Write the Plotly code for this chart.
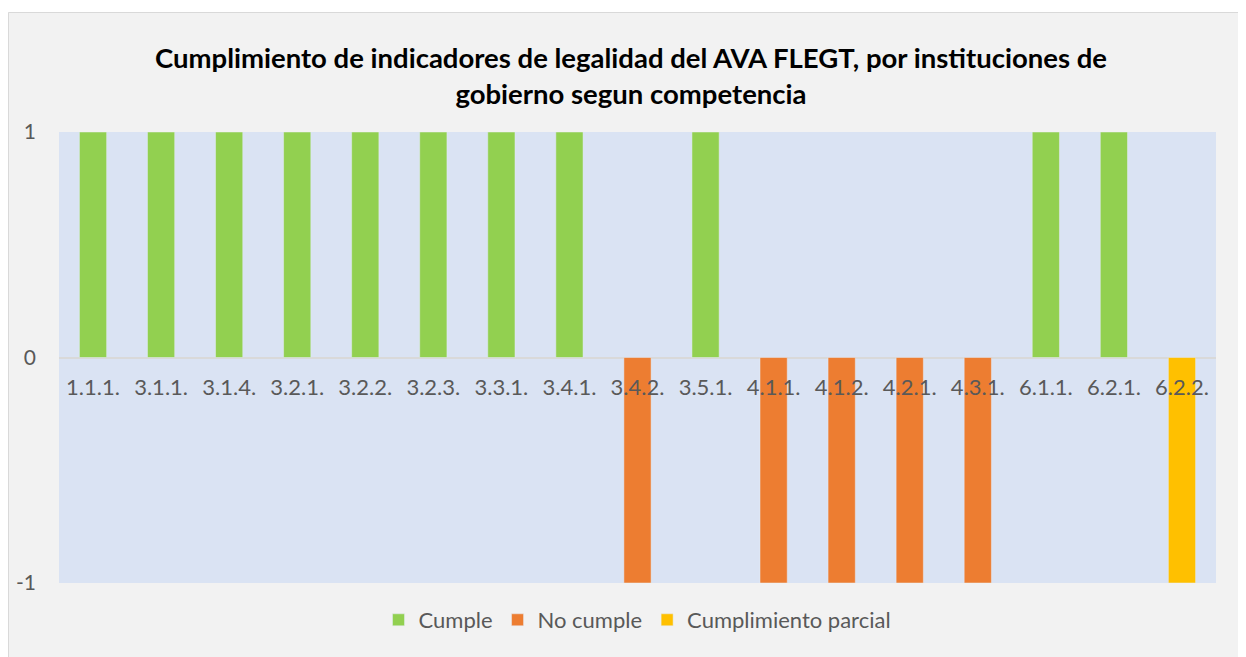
import plotly.graph_objects as go

categories = ['1.1.1.', '3.1.1.', '3.1.4.', '3.2.1.', '3.2.2.', '3.2.3.', '3.3.1.', '3.4.1.',
              '3.4.2.', '3.5.1.', '4.1.1.', '4.1.2.', '4.2.1.', '4.3.1.', '6.1.1.', '6.2.1.', '6.2.2.']
cumple = [1, 1, 1, 1, 1, 1, 1, 1, None, 1, None, None, None, None, 1, 1, None]
no_cumple = [None, None, None, None, None, None, None, None, -1, None, -1, -1, -1, -1, None, None, None]
parcial = [None, None, None, None, None, None, None, None, None, None, None, None, None, None, None, None, -1]
y_ticks = [-1, 0, 1]

W, H = 1246, 657
L, R, T, B = 51, 38, 124, 82
PW, PH = W - L - R, H - T - B

def px_x(x):
    return (x - L) / PW

def px_y(y):
    return (H - B - y) / PH

FONT = "Lato"
GREY = "#595959"

fig = go.Figure()
fig.add_trace(go.Bar(x=categories, y=cumple, name="Cumple", marker_color="#92d050", width=0.4))
fig.add_trace(go.Bar(x=categories, y=no_cumple, name="No cumple", marker_color="#ed7d31", width=0.4))
fig.add_trace(go.Bar(x=categories, y=parcial, name="Cumplimiento parcial", marker_color="#ffc000", width=0.4))

shapes = [
    dict(type="rect", xref="paper", yref="paper", x0=px_x(0), x1=px_x(W), y0=px_y(4), y1=px_y(0),
         fillcolor="white", line_width=0, layer="below"),
    dict(type="line", xref="paper", yref="paper", x0=px_x(0.5), x1=px_x(0.5), y0=px_y(H), y1=px_y(4.5),
         line=dict(color="#d9d9d9", width=1), layer="below"),
    dict(type="line", xref="paper", yref="paper", x0=px_x(0.5), x1=px_x(W), y0=px_y(4.5), y1=px_y(4.5),
         line=dict(color="#d9d9d9", width=1), layer="below"),
]

fig.update_layout(
    width=W, height=H,
    margin=dict(l=L, r=R, t=T, b=B, autoexpand=False),
    paper_bgcolor="#f2f2f2",
    plot_bgcolor="#dae3f3",
    barmode="relative",
    font=dict(family=FONT, color=GREY, size=20),
    title=dict(
        text="Cumplimiento de indicadores de legalidad del AVA FLEGT, por instituciones de<br>gobierno segun competencia",
        x=0.5, xref="container", xanchor="center",
        y=1 - 60 / H, yref="container", yanchor="top",
        font=dict(family=FONT, size=27.5, color="black", weight="bold"),
    ),
    xaxis=dict(
        type="category", anchor="free", position=0.5, automargin=False,
        showgrid=False, showline=False, zeroline=False, ticks="",
        ticklabelstandoff=14,
        tickfont=dict(size=22, color=GREY, family=FONT),
    ),
    yaxis=dict(
        range=[-1, 1], tickvals=y_ticks, ticktext=[str(v) for v in y_ticks], automargin=False,
        showgrid=True, gridcolor="#d9d9d9", gridwidth=1,
        zeroline=True, zerolinecolor="#d9d9d9", zerolinewidth=1.5,
        showline=False, ticks="", ticklabelstandoff=22,
        tickfont=dict(size=21, color=GREY, family=FONT),
    ),
    legend=dict(
        orientation="h", x=0.5, xanchor="center", y=px_y(612), yanchor="middle",
        font=dict(size=22, color=GREY, family=FONT), bgcolor="rgba(0,0,0,0)",
        itemwidth=30, traceorder="normal",
    ),
    shapes=shapes,
    showlegend=True,
)

fig.write_html("out.html")
